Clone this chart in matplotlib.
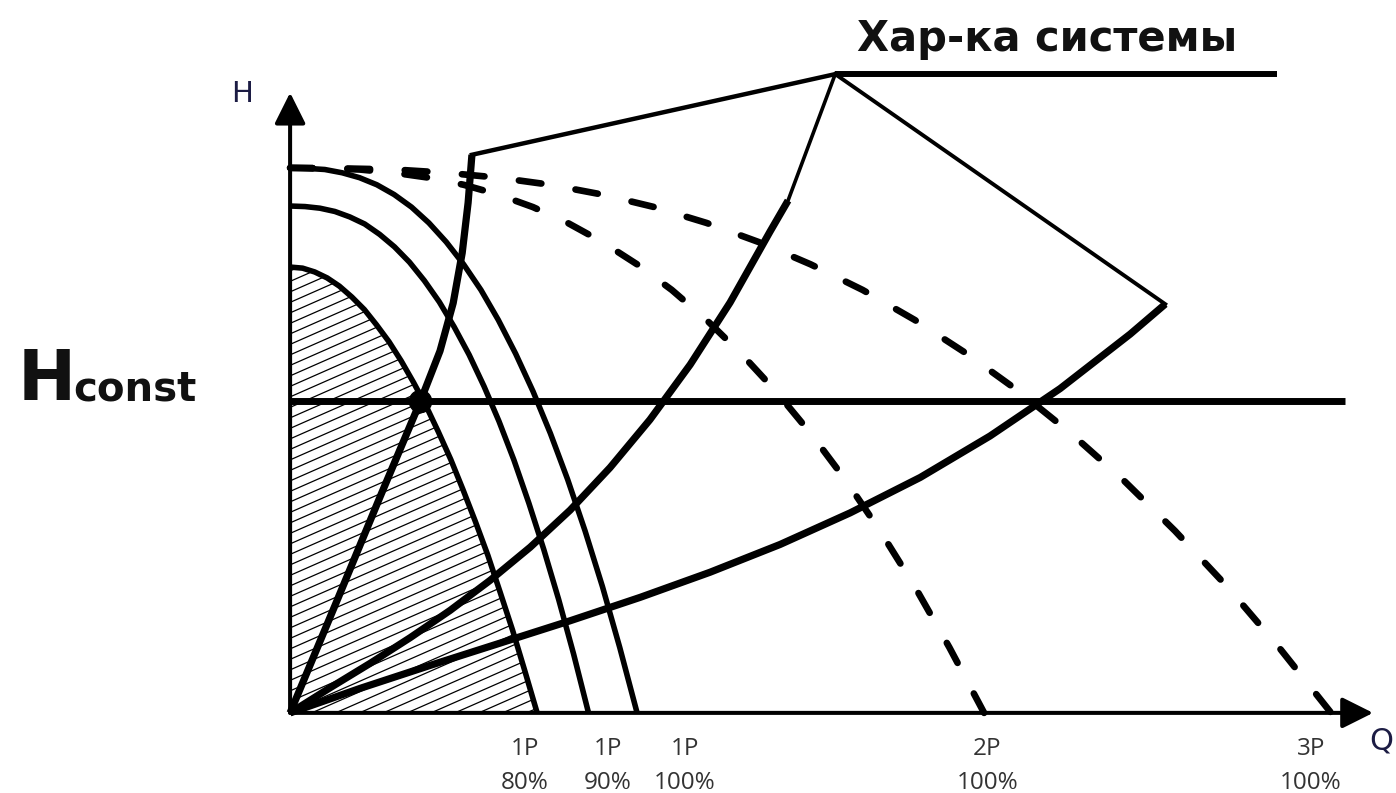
import numpy as np
import matplotlib
matplotlib.use("Agg")
import matplotlib.pyplot as plt
from matplotlib.patches import Polygon

# ---- pump characteristics (Q relative to one pump at full speed, H relative to shut-off head)
q_1p100 = [0.00, 0.05, 0.10, 0.15, 0.20, 0.25, 0.30, 0.35, 0.40, 0.45, 0.50,
           0.55, 0.60, 0.65, 0.70, 0.75, 0.80, 0.85, 0.90, 0.95, 1.00]
h_1p100 = [1.00, 0.999, 0.997, 0.991, 0.982, 0.969, 0.951, 0.928, 0.899, 0.864, 0.823,
           0.776, 0.721, 0.659, 0.590, 0.513, 0.428, 0.334, 0.232, 0.120, 0.00]

q_1p90 = [0.00, 0.043, 0.086, 0.129, 0.172, 0.215, 0.258, 0.301, 0.344, 0.387, 0.430,
          0.473, 0.516, 0.559, 0.602, 0.645, 0.688, 0.731, 0.774, 0.817, 0.860]
h_1p90 = [0.930, 0.929, 0.926, 0.920, 0.910, 0.897, 0.878, 0.855, 0.827, 0.793, 0.754,
          0.708, 0.657, 0.599, 0.535, 0.464, 0.385, 0.300, 0.208, 0.108, 0.00]

q_1p80 = [0.00, 0.036, 0.071, 0.107, 0.142, 0.178, 0.214, 0.249, 0.285, 0.320, 0.356,
          0.392, 0.427, 0.463, 0.498, 0.534, 0.570, 0.605, 0.641, 0.676, 0.712]
h_1p80 = [0.818, 0.816, 0.809, 0.798, 0.783, 0.763, 0.740, 0.712, 0.681, 0.646, 0.606,
          0.563, 0.516, 0.465, 0.410, 0.351, 0.289, 0.222, 0.152, 0.078, 0.00]

q_2p100 = [0.00, 0.10, 0.20, 0.30, 0.40, 0.50, 0.60, 0.70, 0.80, 0.90, 1.00,
           1.10, 1.20, 1.30, 1.40, 1.50, 1.60, 1.70, 1.80, 1.90, 2.00]
h_2p100 = [1.00, 0.999, 0.997, 0.991, 0.982, 0.969, 0.951, 0.928, 0.899, 0.864, 0.823,
           0.776, 0.721, 0.659, 0.590, 0.513, 0.428, 0.334, 0.232, 0.120, 0.00]

q_3p100 = [0.00, 0.15, 0.30, 0.45, 0.60, 0.75, 0.90, 1.05, 1.20, 1.35, 1.50,
           1.65, 1.80, 1.95, 2.10, 2.25, 2.40, 2.55, 2.70, 2.85, 3.00]
h_3p100 = [1.00, 0.999, 0.997, 0.991, 0.982, 0.969, 0.951, 0.928, 0.899, 0.864, 0.823,
           0.776, 0.721, 0.659, 0.590, 0.513, 0.428, 0.334, 0.232, 0.120, 0.00]

# ---- system characteristics
q_sys_steep = [0.00, 0.130, 0.259, 0.375, 0.432, 0.470, 0.496, 0.513, 0.524]
h_sys_steep = [0.00, 0.198, 0.396, 0.571, 0.664, 0.752, 0.844, 0.936, 1.024]

q_sys_mid = [0.00, 0.115, 0.231, 0.346, 0.461, 0.576, 0.692, 0.807, 0.922,
             1.037, 1.153, 1.268, 1.383, 1.435]
h_sys_mid = [0.00, 0.046, 0.091, 0.138, 0.188, 0.243, 0.304, 0.372, 0.450,
             0.538, 0.639, 0.753, 0.883, 0.940]

q_sys_flat = [0.00, 0.202, 0.403, 0.605, 0.807, 1.009, 1.210, 1.412, 1.614,
              1.816, 2.017, 2.219, 2.421, 2.522]
h_sys_flat = [0.00, 0.045, 0.087, 0.128, 0.169, 0.212, 0.258, 0.309, 0.367,
              0.432, 0.508, 0.595, 0.695, 0.750]

# constant-pressure setpoint and the operating point on it
h_const = 0.572
q_const_end = 3.04
op_q, op_h = 0.375, 0.572

# callout for the system curves
callout_q, callout_h = 1.571, 1.172
callout_q_end = 2.844
callout_text = "Хар-ка системы"

# axis extents
q_axis_end = 3.121
h_axis_end = 1.138

# flow labels under the Q axis
label_q = [0.677, 0.915, 1.138, 2.009, 2.942]
label_top = ["1P", "1P", "1P", "2P", "3P"]
label_bottom = ["80%", "90%", "100%", "100%", "100%"]

# ---------------------------------------------------------------------------
W, H = 1396, 793
fig = plt.figure(figsize=(W / 100, H / 100), dpi=100)
ax = fig.add_axes([0, 0, 1, 1])
ax.set_xlim(-0.836, 3.187)
ax.set_ylim(-0.147, 1.308)
ax.axis("off")

K = "black"

# hatched zone under the 80 % curve
clip = Polygon(np.column_stack([q_1p80 + [0.0], h_1p80 + [0.0]]), closed=True,
               facecolor="none", edgecolor="none")
ax.add_patch(clip)
slope = 0.44 * 347 / 545
step = 10.5 / 545
for off in np.arange(-slope * 0.75, 0.85, step):
    ln, = ax.plot([0, 0.75], [off, off + slope * 0.75], color=K, lw=0.9, zorder=1)
    ln.set_clip_path(clip)

# pump curves
for q, h in [(q_1p80, h_1p80), (q_1p90, h_1p90), (q_1p100, h_1p100)]:
    ax.plot(q, h, color=K, lw=4.0, solid_capstyle="butt", solid_joinstyle="round", zorder=3)
for q, h in [(q_2p100, h_2p100), (q_3p100, h_3p100)]:
    ax.plot(q, h, color=K, lw=4.8, linestyle=(0, (3.4, 5.2)),
            dash_capstyle="round", dash_joinstyle="round", zorder=3)

# system curves
for q, h in [(q_sys_steep, h_sys_steep), (q_sys_mid, h_sys_mid), (q_sys_flat, h_sys_flat)]:
    ax.plot(q, h, color=K, lw=5.2, solid_capstyle="butt", solid_joinstyle="round", zorder=4)

# constant head line and operating point
ax.plot([0, q_const_end], [h_const, h_const], color=K, lw=5.0, solid_capstyle="butt", zorder=4)
ax.plot([op_q], [op_h], "o", color=K, ms=16, zorder=5)

# callout leaders
ax.plot([q_sys_steep[-1], callout_q], [h_sys_steep[-1], callout_h], color=K, lw=3.2, zorder=4)
ax.plot([q_sys_mid[-1], callout_q], [h_sys_mid[-1], callout_h], color=K, lw=2.6, zorder=4)
ax.plot([q_sys_flat[-1], callout_q], [h_sys_flat[-1], callout_h], color=K, lw=2.8, zorder=4)
ax.plot([callout_q, callout_q_end], [callout_h, callout_h], color=K, lw=4.3,
        solid_capstyle="butt", zorder=4)
ax.text(2.182, 1.215, callout_text, ha="center", va="baseline", fontsize=30,
        fontweight="bold", family="DejaVu Sans", color="#111111")

# axes with arrows
arrow_kw = dict(arrowstyle="-|>,head_length=1.0,head_width=0.5", mutation_scale=19,
                lw=2.9, color=K, shrinkA=0, shrinkB=0)
ax.annotate("", xy=(q_axis_end, 0), xytext=(0, 0), arrowprops=arrow_kw, zorder=6)
ax.annotate("", xy=(0, h_axis_end), xytext=(0, 0), arrowprops=arrow_kw, zorder=6)

ax.text(-0.138, 1.136, "H", ha="center", va="center", fontsize=21, color="#1c1c44")
ax.text(3.144, -0.051, "Q", ha="center", va="center", fontsize=22, color="#1c1c44")

# flow labels
for x, t, b in zip(label_q, label_top, label_bottom):
    ax.text(x, -0.077, t, ha="center", va="baseline", fontsize=17.5,
            family="Open Sans", color="#333333")
    ax.text(x, -0.139, b, ha="center", va="baseline", fontsize=17.5,
            family="Open Sans", color="#333333")

# H_const label
tH = ax.text(-0.786, 0.574, "H", ha="left", va="baseline", fontsize=50,
             fontweight="bold", family="DejaVu Sans", color="#111111")
fig.canvas.draw()
bb = tH.get_window_extent(renderer=fig.canvas.get_renderer())
x_next = ax.transData.inverted().transform((bb.x1, bb.y0))[0]
ax.text(x_next - 0.005, 0.574, "const", ha="left", va="baseline", fontsize=29,
        fontweight="bold", family="DejaVu Sans", color="#111111")

fig.savefig("out.png", dpi=100)
